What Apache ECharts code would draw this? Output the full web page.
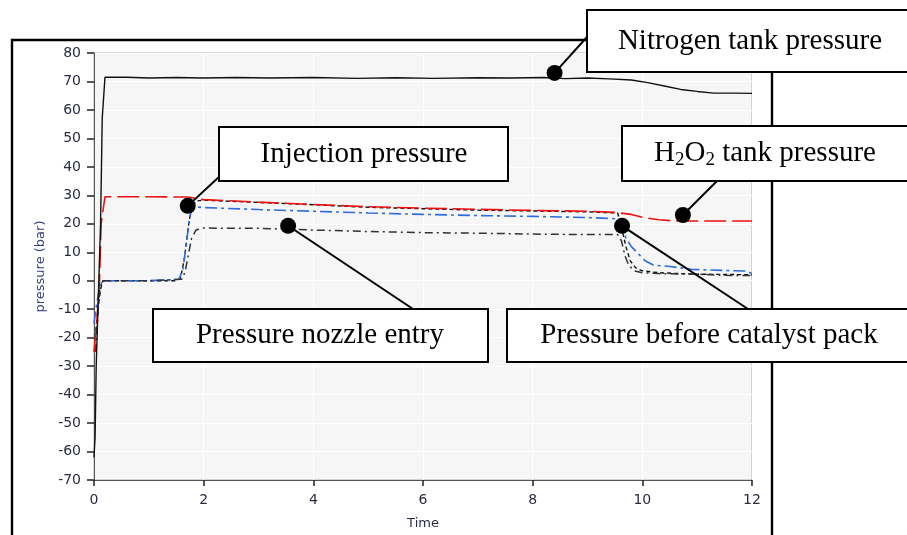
<!DOCTYPE html>
<html><head><meta charset="utf-8">
<script src="https://cdn.jsdelivr.net/npm/echarts@6/dist/echarts.min.js"></script>
<style>html,body{margin:0;padding:0;background:#fff}#c{width:907px;height:535px}</style>
</head><body><div id="c"></div>
<script>
// ---- data ----
const xTicks = [0, 2, 4, 6, 8, 10, 12];
const yTicks = [-70, -60, -50, -40, -30, -20, -10, 0, 10, 20, 30, 40, 50, 60, 70, 80];

const nitrogenT = [0, 0.02, 0.04, 0.08, 0.12, 0.15, 0.2, 0.6, 1.0, 1.5, 2.0, 2.6, 3.2, 4.0, 4.8, 5.5, 6.2, 7.0, 7.6, 8.2, 8.6, 9.0, 9.4, 9.8, 10.1, 10.4, 10.7, 11.0, 11.3, 11.7, 12];
const nitrogenV = [-62, -55, -30, -5, 20, 57, 71.5, 71.5, 71.2, 71.4, 71.2, 71.4, 71.2, 71.4, 71.1, 71.3, 71.1, 71.3, 71.2, 71.4, 71.0, 71.2, 70.9, 70.5, 69.6, 68.4, 67.2, 66.5, 65.9, 65.9, 65.8];

const h2o2T = [0, 0.05, 0.1, 0.13, 0.2, 1.0, 1.7, 2.0, 3.0, 4.0, 5.0, 6.0, 7.0, 8.0, 9.0, 9.5, 9.8, 10.0, 10.3, 10.6, 11.5, 12];
const h2o2V = [-25, -15, 0, 20, 29.5, 29.5, 29.4, 28.5, 27.6, 26.8, 26.0, 25.5, 25.1, 24.7, 24.4, 24.0, 23.3, 22.3, 21.4, 21.0, 21.0, 21.0];

const injectionT = [0.02, 0.07, 0.12, 0.16, 1.0, 1.5, 1.58, 1.65, 1.72, 1.78, 1.86, 2.0, 3.0, 4.0, 5.0, 6.0, 7.0, 8.0, 9.0, 9.55, 9.63, 9.7, 9.78, 9.88, 10.0, 10.3, 11.0, 12];
const injectionV = [-20, -10, -3, 0, 0, 0, 1, 8, 19, 26, 28, 28.3, 27.5, 26.7, 25.8, 25.3, 24.8, 24.5, 24.2, 23.8, 18, 12, 7, 4.5, 3.5, 2.8, 2.3, 2.1];

const catalystT = [0, 0.05, 0.1, 0.15, 1.0, 1.55, 1.62, 1.68, 1.74, 1.8, 2.0, 3.0, 4.0, 5.0, 6.0, 7.0, 8.0, 9.0, 9.5, 9.62, 9.7, 9.8, 9.9, 10.05, 10.2, 10.5, 10.9, 11.5, 11.9, 12];
const catalystV = [-15, -8, -3, 0, 0, 0.5, 4, 12, 22, 26, 25.7, 25.0, 24.4, 23.8, 23.3, 22.9, 22.6, 22.2, 21.8, 19, 15, 12, 10, 7, 5.5, 5.0, 4.0, 3.6, 3.4, 2.5];

const nozzleT = [0.03, 0.07, 0.1, 0.15, 1.0, 1.6, 1.66, 1.72, 1.78, 1.86, 2.0, 3.0, 4.0, 5.0, 6.0, 7.0, 8.0, 9.0, 9.55, 9.62, 9.68, 9.75, 9.85, 10.0, 10.3, 11.0, 11.5, 12];
const nozzleV = [-25, -12, -4, 0, 0, 0.5, 3, 9, 15, 17.8, 18.5, 18.4, 17.8, 17.3, 16.9, 16.7, 16.4, 16.2, 16.2, 14, 9, 5.5, 3.5, 2.8, 2.5, 2.3, 1.9, 1.8];

// annotation labels (pieces: [text, isSubscript]) and the data points their markers sit on
const labelPieces = [
  [['Nitrogen tank pressure', false]],
  [['Injection pressure', false]],
  [['H', false], ['2', true], ['O', false], ['2', true], [' tank pressure', false]],
  [['Pressure nozzle entry', false]],
  [['Pressure before catalyst pack', false]]
];
const labelPointT = [8.4, 1.71, 10.74, 3.54, 9.63];
const labelPointV = [73.0, 26.3, 23.1, 19.3, 19.3];

const zip = (t, v) => t.map((x, i) => [x, v[i]]);

const chart = echarts.init(document.getElementById('c'), null, {renderer: 'canvas'});
const tickFont = {fontFamily: 'DejaVu Sans', fontSize: 14, color: '#2a2c44'};

function lineSeries(name, t, v, color, type, width, z) {
  return {name, type: 'line', data: zip(t, v), showSymbol: false, symbol: 'none', z,
    lineStyle: {color, type, width}, animation: false};
}

chart.setOption({
  animation: false,
  backgroundColor: '#ffffff',
  grid: {left: 94, top: 53, right: 155, bottom: 52, show: true, backgroundColor: '#f6f6f6', borderColor: '#b0b0b0', borderWidth: 1},
  xAxis: {type: 'value', min: 0, max: 12, interval: 2,
    name: 'Time', nameLocation: 'middle', nameGap: 37,
    nameTextStyle: {fontFamily: 'DejaVu Sans', fontSize: 13, color: '#2a2c44'},
    axisLine: {show: true, onZero: false, lineStyle: {color: '#555', width: 1}},
    axisTick: {show: true, length: 6, lineStyle: {color: '#222', width: 1.5}},
    axisLabel: Object.assign({margin: 13, formatter: v => xTicks.includes(v) ? String(v) : ''}, tickFont),
    splitLine: {show: true, lineStyle: {color: '#ffffff', width: 1}}},
  yAxis: {type: 'value', min: -70, max: 80, interval: 10,
    name: 'pressure (bar)', nameLocation: 'middle', nameGap: 41, nameRotate: 90,
    nameTextStyle: {fontFamily: 'DejaVu Sans', fontSize: 13, color: '#3a4080'},
    axisLine: {show: true, onZero: false, lineStyle: {color: '#555', width: 1}},
    axisTick: {show: true, length: 7, lineStyle: {color: '#222', width: 1.5}},
    axisLabel: Object.assign({margin: 13, formatter: v => yTicks.includes(v) ? String(v) : ''}, tickFont),
    splitLine: {show: true, lineStyle: {color: '#ffffff', width: 1}}},
  series: [
    lineSeries('Nitrogen tank pressure', nitrogenT, nitrogenV, '#111111', 'solid', 1.4, 5),
    lineSeries('Injection pressure', injectionT, injectionV, '#111111', [4, 3], 1.4, 3),
    lineSeries('H2O2 tank pressure', h2o2T, h2o2V, '#ee1111', [22, 6], 1.6, 4),
    lineSeries('Pressure before catalyst pack', catalystT, catalystV, '#2e6ae0', [12, 4, 3, 4], 1.6, 4),
    lineSeries('Pressure nozzle entry', nozzleT, nozzleV, '#333333', [8, 4, 2, 4], 1.5, 4)
  ]
});

// annotation boxes (pixel layout of the callouts)
const boxes = [
  {x: 587, y: 10, w: 340, h: 62, cx: 750, anchor: [587, 37]},
  {x: 219, y: 127, w: 289, h: 54, cx: 364, anchor: [220, 176]},
  {x: 622, y: 126, w: 300, h: 55, cx: 765, anchor: [717, 181]},
  {x: 153, y: 309, w: 335, h: 53, cx: 320, anchor: [413, 309]},
  {x: 507, y: 309, w: 420, h: 53, cx: 709, anchor: [748, 309]}
];

const MAIN = 29, SUB = 19;
const fontOf = s => s + 'px "Liberation Serif"';
const mctx = document.createElement('canvas').getContext('2d');
function measure(t, s) { mctx.font = fontOf(s); return mctx.measureText(t).width; }

const g = [];
// outer frame
g.push({type: 'rect', shape: {x: 12, y: 40, width: 760, height: 520}, style: {fill: 'none', stroke: '#000', lineWidth: 2.4}, z: 50});
boxes.forEach((b, i) => {
  const p = chart.convertToPixel({gridIndex: 0}, [labelPointT[i], labelPointV[i]]);
  g.push({type: 'line', shape: {x1: p[0], y1: p[1], x2: b.anchor[0], y2: b.anchor[1]}, style: {stroke: '#000', lineWidth: 2}, z: 60});
  g.push({type: 'circle', shape: {cx: p[0], cy: p[1], r: 8}, style: {fill: '#000'}, z: 61});
  g.push({type: 'rect', shape: {x: b.x, y: b.y, width: b.w, height: b.h}, style: {fill: '#fff', stroke: '#000', lineWidth: 2}, z: 70});
  const pieces = labelPieces[i];
  const widths = pieces.map(([t, sub]) => measure(t, sub ? SUB : MAIN));
  const total = widths.reduce((a, w) => a + w, 0);
  let x = b.cx - total / 2;
  const cy = b.y + b.h / 2;
  pieces.forEach(([t, sub], k) => {
    g.push({type: 'text', x: x, y: sub ? cy + 7 : cy, z: 71,
      style: {text: t, fill: '#000', font: fontOf(sub ? SUB : MAIN), align: 'left', verticalAlign: 'middle'}});
    x += widths[k];
  });
});
chart.setOption({graphic: {elements: g}});
</script>
</body></html>
